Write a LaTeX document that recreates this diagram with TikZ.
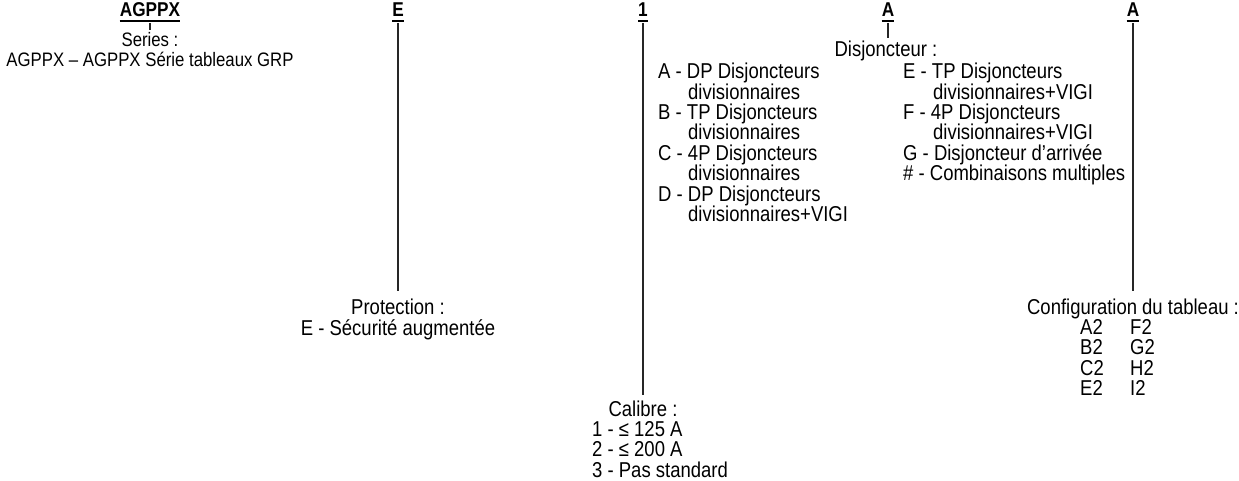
\documentclass[tikz,border=0pt]{standalone}
\usepackage{fontspec}
\setmainfont{Liberation Sans}[FakeStretch=0.86]
\usetikzlibrary{positioning}

\tikzset{
    code/.style={font=\fontsize{20}{20.4}\selectfont\bfseries, inner sep=0pt, anchor=base},
    desc/.style={font=\fontsize{21.5}{20.4}\selectfont, inner sep=0pt, align=center, anchor=north},
    item/.style={font=\fontsize{21.5}{20.4}\selectfont, inner sep=0pt, align=left, anchor=north west},
    wire/.style={line width=1.1pt, draw=black!85},
}
\newcommand{\ind}{\hspace*{30pt}}

\begin{document}
\begin{tikzpicture}[x=1pt, y=-1pt]
        \useasboundingbox (0, 0) rectangle (1239, 481);
        % Code letters:
        \node[code] (hAG) at (150, 17){AGPPX};
        \node[code] (hE) at (398, 17){E};
        \node[code] (hC) at (643, 17){1};
        \node[code] (hD) at (888, 17){A};
        \node[code] (hT) at (1133, 17){A};
        \foreach \h in {hAG, hE, hC, hD, hT}
            \draw[line width=1.4pt] ([yshift=-4pt]\h.base west) -- ([yshift=-4pt]\h.base east);
        % Descriptions:
        \node[desc, font=\fontsize{19.5}{20.4}\selectfont] (dSer) at (150, 32){Series :\\AGPPX -- AGPPX Série tableaux GRP};
        \node[desc] (dProt) at (398, 299){Protection :\\E - Sécurité augmentée};
        \node[desc] (dCal) at (643, 401){Calibre :};
        \node[item] (lCal) at (592, 421){1 - ≤ 125 A\\2 - ≤ 200 A\\3 - Pas standard};
        \node[desc] (dDisj) at (886, 41){Disjoncteur :};
        \node[item] (lDisjA) at (658, 63){A - DP Disjoncteurs\\\ind divisionnaires\\B - TP Disjoncteurs\\\ind divisionnaires\\C - 4P Disjoncteurs\\\ind divisionnaires\\D - DP Disjoncteurs\\\ind divisionnaires+VIGI};
        \node[item] (lDisjE) at (903, 63){E - TP Disjoncteurs\\\ind divisionnaires+VIGI\\F - 4P Disjoncteurs\\\ind divisionnaires+VIGI\\G - Disjoncteur d’arrivée\\\# - Combinaisons multiples};
        \node[desc] (dConf) at (1133, 299){Configuration du tableau :};
        \node[item] (lConf1) at (1080, 319){A2\\B2\\C2\\E2};
        \node[item] (lConf2) at (1130, 319){F2\\G2\\H2\\I2};
        % Leaders:
        \draw[wire] ([yshift=-6pt]hAG.base) -- ([yshift=2pt]hAG.base |- dSer.north);
        \draw[wire] ([yshift=-6pt]hE.base) -- ([yshift=8pt]hE.base |- dProt.north);
        \draw[wire] ([yshift=-6pt]hC.base) -- ([yshift=6pt]hC.base |- dCal.north);
        \draw[wire] ([yshift=-6pt]hD.base) -- ([yshift=3pt]hD.base |- dDisj.north);
        \draw[wire] ([yshift=-6pt]hT.base) -- ([yshift=8pt]hT.base |- dConf.north);
    \end{tikzpicture}
\end{document}
